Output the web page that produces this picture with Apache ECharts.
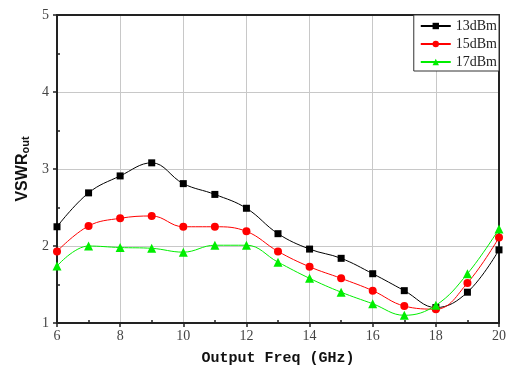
<!DOCTYPE html>
<html>
<head>
<meta charset="utf-8">
<script src="https://cdn.jsdelivr.net/npm/echarts@6/dist/echarts.min.js"></script>
<style>html,body{margin:0;padding:0;background:#fff}#c{width:509px;height:371px}</style>
</head>
<body>
<div id="c"></div>
<script>
const freqs = [6, 7, 8, 9, 10, 11, 12, 13, 14, 15, 16, 17, 18, 19, 20];
const s13 = [2.25, 2.69, 2.91, 3.08, 2.81, 2.67, 2.49, 2.16, 1.96, 1.84, 1.64, 1.42, 1.20, 1.40, 1.95];
const s15 = [1.93, 2.26, 2.36, 2.39, 2.25, 2.25, 2.19, 1.93, 1.73, 1.58, 1.42, 1.22, 1.18, 1.52, 2.11];
const s17 = [1.74, 2.00, 1.98, 1.97, 1.92, 2.01, 2.01, 1.79, 1.58, 1.40, 1.25, 1.10, 1.23, 1.64, 2.22];
const names = ['13dBm', '15dBm', '17dBm'];
const colors = ['#000000', '#ff0000', '#00ee00'];
const symbols = ['rect', 'circle', 'triangle'];

const chart = echarts.init(document.getElementById('c'));
const serif = 'Liberation Serif';
function mk(name, data, color, sym) {
  return {
    name: name, type: 'line', smooth: 0.4,
    data: freqs.map((f, i) => [f, data[i]]),
    symbol: sym, symbolSize: sym === 'triangle' ? 9 : (sym === 'rect' ? 7 : 8),
    lineStyle: { color: color, width: 1 },
    itemStyle: { color: color },
    clip: false
  };
}
chart.setOption({
  animation: false,
  grid: { left: 57, right: 10, top: 15, bottom: 48 },
  legend: {
    right: 10, top: 15,
    orient: 'vertical',
    data: names,
    itemWidth: 30, itemHeight: 8, itemGap: 4,
    borderColor: '#333', borderWidth: 1,
    padding: [4, 2, 2, 6],
    backgroundColor: '#fff',
    textStyle: { fontFamily: serif, fontSize: 14, color: '#222' }
  },
  xAxis: [{
    type: 'value', min: 6, max: 20, interval: 2,
    name: 'Output Freq (GHz)', nameLocation: 'middle', nameGap: 28,
    nameTextStyle: { fontFamily: 'Liberation Mono', fontWeight: 'bold', fontSize: 15, color: '#111' },
    axisLine: { show: true, lineStyle: { color: '#222', width: 2 } },
    axisTick: { show: true, length: 4, lineStyle: { color: '#222', width: 1.5 } },
    minorTick: { show: true, splitNumber: 2, length: -3, lineStyle: { color: '#222', width: 1.5 } },
    axisLabel: { fontFamily: serif, fontSize: 14, color: '#444', margin: 6 },
    splitLine: { show: true, lineStyle: { color: '#c8c8c8', width: 1 } }
  }, {
    type: 'value', min: 6, max: 20, position: 'top',
    axisLine: { show: true, onZero: false, lineStyle: { color: '#222', width: 2 } },
    axisTick: { show: false }, axisLabel: { show: false }, splitLine: { show: false }
  }],
  yAxis: [{
    type: 'value', min: 1, max: 5, interval: 1,
    name: '{b|VSWR}{s|out}', nameLocation: 'middle', nameGap: 26, nameRotate: 90,
    nameTextStyle: {
      rich: {
        b: { fontFamily: 'Liberation Sans Narrow, Liberation Sans', fontWeight: 'bold', fontSize: 16, color: '#111' },
        s: { fontFamily: 'Liberation Sans Narrow, Liberation Sans', fontWeight: 'bold', fontSize: 11, color: '#111', verticalAlign: 'bottom', padding: [6, 0, 0, 0] }
      }
    },
    axisLine: { show: true, lineStyle: { color: '#222', width: 2 } },
    axisTick: { show: true, length: 4, lineStyle: { color: '#222', width: 1.5 } },
    minorTick: { show: true, splitNumber: 2, length: -3, lineStyle: { color: '#222', width: 1.5 } },
    axisLabel: { fontFamily: serif, fontSize: 14, color: '#444', margin: 8 },
    splitLine: { show: true, lineStyle: { color: '#c8c8c8', width: 1 } }
  }, {
    type: 'value', min: 1, max: 5, position: 'right',
    axisLine: { show: true, onZero: false, lineStyle: { color: '#222', width: 2 } },
    axisTick: { show: false }, axisLabel: { show: false }, splitLine: { show: false }
  }],
  series: [
    mk(names[0], s13, colors[0], symbols[0]),
    mk(names[1], s15, colors[1], symbols[1]),
    mk(names[2], s17, colors[2], symbols[2])
  ]
});
</script>
</body>
</html>
